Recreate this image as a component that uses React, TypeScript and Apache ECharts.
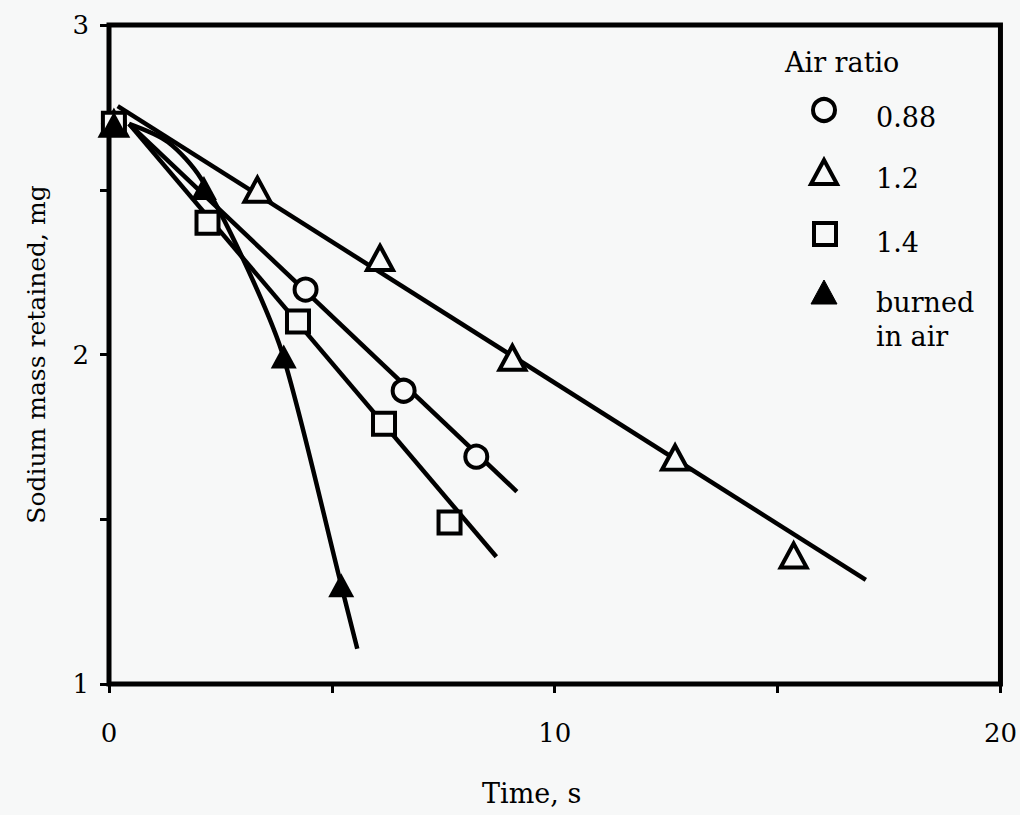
import React, { useEffect, useRef } from "react";
import * as echarts from "echarts";

const BG = "#f7f8f8";
const FONT = "DejaVu Serif";

// scatter data (time s, sodium mass mg)
const ratio088 = [[0.11, 2.7], [4.41, 2.197], [6.61, 1.89], [8.24, 1.69]];
const ratio12 = [[0.11, 2.7], [3.33, 2.5], [6.08, 2.293], [9.05, 1.99], [12.7, 1.687], [15.36, 1.39]];
const ratio14 = [[0.11, 2.7], [2.21, 2.4], [4.24, 2.1], [6.17, 1.79], [7.64, 1.49]];
const burned = [[0.11, 2.7], [2.13, 2.505], [3.92, 1.994], [5.21, 1.3]];

// fitted lines
const fit088 = [[0.45, 2.7], [9.15, 1.584]];
const fit12 = [[0.195, 2.754], [16.98, 1.316]];
const fit14 = [[0.45, 2.7], [8.69, 1.386]];
const fitBurned = [[0.45, 2.7], [1.32, 2.645], [2.06, 2.535], [3.11, 2.26], [3.92, 1.99], [5.21, 1.3], [5.57, 1.107]];

const xTickLabels = [0, 10, 20];
const yTickLabels = [1, 2, 3];

const legendTitle = "Air ratio";
const legendLabels = ["0.88", "1.2", "1.4", "burned", "in air"];

export default function App() {
  const ref = useRef<HTMLDivElement>(null);
  useEffect(() => {
    if (!ref.current) return;
    const chart = echarts.init(ref.current, null, { renderer: "svg" });
    const lineStyle = { color: "#000", width: 4.5 };
    const openItem = { color: BG, borderColor: "#000", borderWidth: 4, opacity: 1 };
    const txt = (text: string, x: number, y: number) => ({
      type: "text",
      x,
      y,
      style: { text, fontSize: 27, fontFamily: FONT, fill: "#000", verticalAlign: "middle", align: "left" },
      z: 100,
    });
    chart.setOption({
      animation: false,
      backgroundColor: BG,
      grid: {
        left: 109,
        top: 25,
        width: 895,
        height: 659,
        show: true,
        borderWidth: 5,
        borderColor: "#000",
        backgroundColor: "transparent",
      },
      xAxis: {
        type: "value",
        min: 0,
        max: 20,
        interval: 5,
        name: "Time, s",
        nameLocation: "middle",
        nameGap: 96,
        nameTextStyle: { fontSize: 27, fontFamily: FONT, color: "#000", padding: [0, 46, 0, 0] },
        axisLine: { show: false },
        axisTick: { show: true, length: 9, lineStyle: { color: "#000", width: 3 } },
        splitLine: { show: false },
        axisLabel: {
          fontSize: 26,
          fontFamily: FONT,
          color: "#000",
          margin: 36,
          formatter: (v: number) => (xTickLabels.includes(v) ? String(v) : ""),
        },
      },
      yAxis: {
        type: "value",
        min: 1,
        max: 3,
        interval: 0.5,
        name: "Sodium mass retained, mg",
        nameLocation: "middle",
        nameGap: 60,
        nameTextStyle: { fontSize: 25, fontFamily: FONT, color: "#000" },
        axisLine: { show: false },
        axisTick: { show: true, length: 9, lineStyle: { color: "#000", width: 3 } },
        splitLine: { show: false },
        axisLabel: {
          fontSize: 26,
          fontFamily: FONT,
          color: "#000",
          margin: 20,
          formatter: (v: number) => (yTickLabels.includes(v) ? String(v) : ""),
        },
      },
      series: [
        { type: "line", data: fit12, showSymbol: false, lineStyle, z: 2 },
        { type: "line", data: fit088, showSymbol: false, lineStyle, z: 2 },
        { type: "line", data: fit14, showSymbol: false, lineStyle, z: 2 },
        { type: "line", data: fitBurned, showSymbol: false, smooth: 0.3, lineStyle, z: 2 },
        { name: "0.88", type: "scatter", data: ratio088, symbol: "circle", symbolSize: 22, itemStyle: openItem, z: 5 },
        { name: "1.2", type: "scatter", data: ratio12, symbol: "triangle", symbolSize: [26, 24], itemStyle: openItem, z: 5 },
        { name: "1.4", type: "scatter", data: ratio14, symbol: "rect", symbolSize: 22, itemStyle: openItem, z: 5 },
        { name: "burned in air", type: "scatter", data: burned, symbol: "triangle", symbolSize: [26, 24], itemStyle: { color: "#000", opacity: 1 }, z: 6 },
      ],
      graphic: [
        txt(legendTitle, 785, 62),
        { type: "circle", shape: { cx: 824, cy: 110, r: 11 }, style: { fill: BG, stroke: "#000", lineWidth: 4 }, z: 100 },
        txt(legendLabels[0], 876, 117),
        { type: "polygon", shape: { points: [[811, 184], [837, 184], [824, 160]] }, style: { fill: BG, stroke: "#000", lineWidth: 4 }, z: 100 },
        txt(legendLabels[1], 876, 178),
        { type: "rect", shape: { x: 814, y: 223, width: 22, height: 22 }, style: { fill: BG, stroke: "#000", lineWidth: 4 }, z: 100 },
        txt(legendLabels[2], 876, 242),
        { type: "polygon", shape: { points: [[811, 304], [837, 304], [824, 280]] }, style: { fill: "#000", stroke: "#000", lineWidth: 1 }, z: 100 },
        txt(legendLabels[3], 876, 302),
        txt(legendLabels[4], 876, 336),
      ],
    });
    return () => chart.dispose();
  }, []);
  return (
    <div
      ref={ref}
      style={{ position: "fixed", left: 0, top: 0, width: 1020, height: 815, background: BG }}
    />
  );
}
